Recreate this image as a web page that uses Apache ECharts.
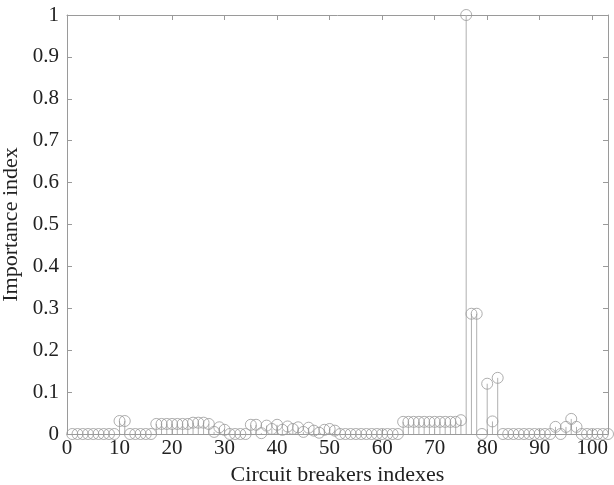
<!DOCTYPE html>
<html>
<head>
<meta charset="utf-8">
<script src="https://cdn.jsdelivr.net/npm/echarts@6/dist/echarts.min.js"></script>
<style>
html, body { margin: 0; padding: 0; background: #fff; }
#main { width: 614px; height: 485px; }
</style>
</head>
<body>
<div id="main"></div>
<script>
var myChart = echarts.init(document.getElementById('main'));

// breaker index 1..103 and its importance index
var indexes = [];
for (var i = 1; i <= 103; i++) indexes.push(i);

var importance = [
    0, 0, 0, 0, 0, 0, 0, 0, 0, 0.031,               // 1-10
    0.031, 0, 0, 0, 0, 0, 0.024, 0.024, 0.024, 0.024, // 11-20
    0.024, 0.024, 0.024, 0.027, 0.027, 0.027, 0.024, 0.005, 0.016, 0.01, // 21-30
    0, 0, 0, 0, 0.022, 0.022, 0.002, 0.02, 0.012, 0.022, // 31-40
    0.01, 0.018, 0.012, 0.016, 0.005, 0.015, 0.008, 0.003, 0.01, 0.012, // 41-50
    0.008, 0, 0, 0, 0, 0, 0, 0, 0, 0,               // 51-60
    0, 0, 0, 0.029, 0.029, 0.029, 0.029, 0.029, 0.029, 0.029, // 61-70
    0.029, 0.029, 0.029, 0.029, 0.033, 1, 0.287, 0.287, 0, 0.12, // 71-80
    0.03, 0.134, 0, 0, 0, 0, 0, 0, 0, 0,            // 81-90
    0, 0, 0.017, 0, 0.017, 0.036, 0.017, 0, 0, 0,   // 91-100
    0, 0, 0                                          // 101-103
];

var xTicks = [0, 10, 20, 30, 40, 50, 60, 70, 80, 90, 100];
var yTickLabels = ['0', '0.1', '0.2', '0.3', '0.4', '0.5', '0.6', '0.7', '0.8', '0.9', '1'];

var points = indexes.map(function (x, k) { return [x, importance[k]]; });

var grey = '#9a9a9a';
var font = 'Liberation Serif';

function boxAxis(extra) {
    var ax = {
        axisLine: { show: true, onZero: false, lineStyle: { color: grey, width: 1 } },
        axisTick: { show: true, inside: true, length: 5, lineStyle: { color: grey } },
        splitLine: { show: false },
        axisLabel: { show: false }
    };
    for (var k in extra) ax[k] = extra[k];
    return ax;
}

option = {
    animation: false,
    grid: { left: 67, right: 6, top: 15, bottom: 51, containLabel: false, outerBoundsMode: 'none' },
    xAxis: [
        boxAxis({
            type: 'value', min: 0, max: 103, interval: 10, position: 'bottom',
            name: 'Circuit breakers indexes', nameLocation: 'middle', nameGap: 24,
            nameTextStyle: { fontFamily: font, fontSize: 22, color: '#222' },
            axisLabel: {
                show: true, fontFamily: font, fontSize: 21, color: '#222', margin: 4,
                showMaxLabel: false,
                formatter: function (v) { return xTicks.indexOf(v) >= 0 ? String(v) : ''; }
            }
        }),
        boxAxis({ type: 'value', min: 0, max: 103, interval: 10, position: 'top' })
    ],
    yAxis: [
        boxAxis({
            type: 'value', min: 0, max: 1, interval: 0.1, position: 'left',
            name: 'Importance index', nameLocation: 'middle', nameGap: 38,
            nameTextStyle: { fontFamily: font, fontSize: 22, color: '#222' },
            axisLabel: {
                show: true, fontFamily: font, fontSize: 21, color: '#222', margin: 8,
                formatter: function (v) { return yTickLabels[Math.round(v * 10)]; }
            }
        }),
        boxAxis({ type: 'value', min: 0, max: 1, interval: 0.1, position: 'right' })
    ],
    series: [
        {
            // stems
            type: 'custom',
            data: points,
            renderItem: function (params, api) {
                var top = api.coord([api.value(0), api.value(1)]);
                var bot = api.coord([api.value(0), 0]);
                return {
                    type: 'line',
                    shape: { x1: bot[0], y1: bot[1], x2: top[0], y2: top[1] },
                    style: { stroke: '#b0b0b0', lineWidth: 1 }
                };
            },
            z: 1
        },
        {
            type: 'scatter',
            data: points,
            symbol: 'circle',
            symbolSize: 11,
            itemStyle: { color: 'rgba(255,255,255,0)', borderColor: grey, borderWidth: 1 },
            clip: false,
            z: 2
        }
    ]
};

myChart.setOption(option);
</script>
</body>
</html>
